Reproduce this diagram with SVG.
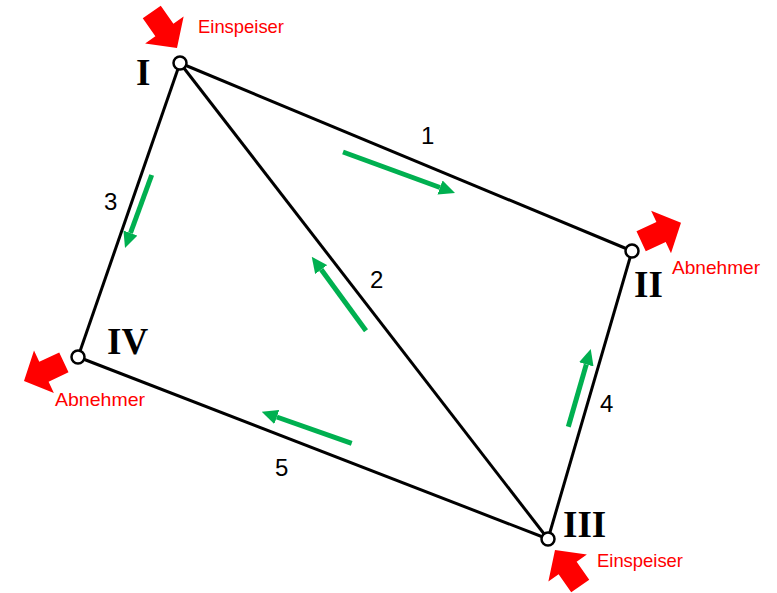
<svg xmlns="http://www.w3.org/2000/svg" width="777" height="593" viewBox="0 0 777 593">
<style>
.edge{stroke:#000;stroke-width:3;fill:none}
.node{fill:#fff;stroke:#000;stroke-width:2.5}
.num{font-family:"Liberation Serif","Times New Roman",serif;font-weight:bold;font-size:37px;fill:#000}
.lbl{font-family:"Liberation Sans",Arial,sans-serif;font-size:24px;fill:#000}
.red{font-family:"Liberation Sans",Arial,sans-serif;font-size:19px;fill:#ff0000}
.flow{stroke:#00b050;stroke-width:5;fill:none;marker-end:url(#gh)}
.blk{fill:#ff0000}
</style>
<defs>
<marker id="gh" viewBox="0 -1.5 3.2 3" markerWidth="3.2" markerHeight="3" refX="0" refY="0" orient="auto" markerUnits="strokeWidth">
<path d="M0,-1.5 L3.2,0 L0,1.5 z" fill="#00b050"/>
</marker>
<polygon id="bigarrow" points="0,0 -22,-23.5 -22,-11 -44,-11 -44,11 -22,11 -22,23.5"/>
</defs>
<g id="connectors">
<line class="edge" x1="180" y1="63" x2="632" y2="251"/>
<line class="edge" x1="180" y1="63" x2="548" y2="539"/>
<line class="edge" x1="180" y1="63" x2="78" y2="357"/>
<line class="edge" x1="632" y1="251" x2="548" y2="539"/>
<line class="edge" x1="78" y1="357" x2="548" y2="539"/>
<text class="lbl" x="421" y="144">1</text>
<text class="lbl" x="370" y="288">2</text>
<text class="lbl" x="104" y="210">3</text>
<text class="lbl" x="600" y="412">4</text>
<text class="lbl" x="275" y="476">5</text>
</g>
<g id="flows">
<line class="flow" x1="343" y1="152" x2="440" y2="187.5"/>
<line class="flow" x1="151.7" y1="175" x2="130.5" y2="233"/>
<line class="flow" x1="366" y1="330.7" x2="321.2" y2="269.6"/>
<line class="flow" x1="351.7" y1="443.3" x2="276.8" y2="417"/>
<line class="flow" x1="568.3" y1="426.7" x2="586.3" y2="364.4"/>
</g>
<g id="node-I">
<circle class="node" cx="180" cy="63" r="6.5"/>
<text class="num" x="136" y="85">I</text>
<use href="#bigarrow" class="blk" transform="translate(177,48) rotate(55)"/>
<text class="red" x="198" y="33" textLength="86" lengthAdjust="spacingAndGlyphs">Einspeiser</text>
</g>
<g id="node-II">
<circle class="node" cx="632" cy="251" r="6.5"/>
<text class="num" x="634" y="297">II</text>
<use href="#bigarrow" class="blk" transform="translate(681,222.7) rotate(-25)"/>
<text class="red" x="672" y="274" textLength="88" lengthAdjust="spacingAndGlyphs">Abnehmer</text>
</g>
<g id="node-III">
<circle class="node" cx="548" cy="539" r="6.5"/>
<text class="num" x="563" y="537">III</text>
<use href="#bigarrow" class="blk" transform="translate(555,550) rotate(-125)"/>
<text class="red" x="597" y="567" textLength="86" lengthAdjust="spacingAndGlyphs">Einspeiser</text>
</g>
<g id="node-IV">
<circle class="node" cx="78" cy="357" r="6.5"/>
<text class="num" x="107" y="354">IV</text>
<use href="#bigarrow" class="blk" transform="translate(24,381) rotate(155)"/>
<text class="red" x="55" y="406" textLength="90" lengthAdjust="spacingAndGlyphs">Abnehmer</text>
</g>
</svg>
